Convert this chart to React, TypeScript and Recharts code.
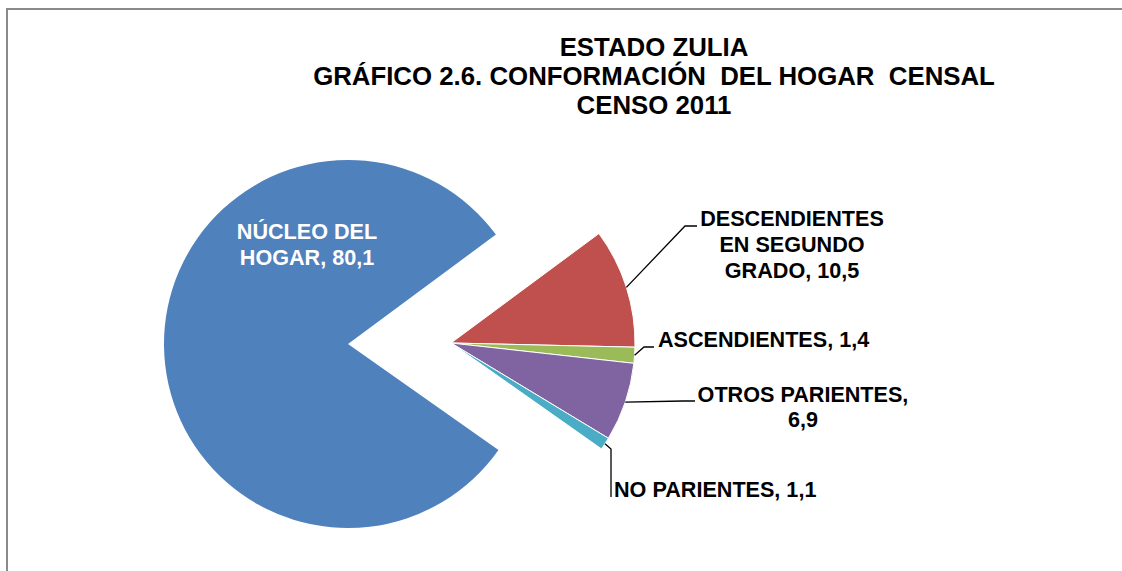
import React from "react";
import { PieChart, Pie, Cell } from "recharts";

const categories = [
  "DESCENDIENTES EN SEGUNDO GRADO",
  "ASCENDIENTES",
  "OTROS PARIENTES",
  "NO PARIENTES",
  "NÚCLEO DEL HOGAR",
];
const values = [10.5, 1.4, 6.9, 1.1, 80.1];
const colors = ["#C0504D", "#9BBB59", "#8064A2", "#4BACC6", "#4F81BD"];
const labelLines = [
  ["DESCENDIENTES", "EN SEGUNDO", "GRADO, 10,5"],
  ["ASCENDIENTES, 1,4"],
  ["OTROS PARIENTES,", "6,9"],
  ["NO PARIENTES, 1,1"],
  ["NÚCLEO DEL", "HOGAR, 80,1"],
];
const titleLines = ["ESTADO ZULIA", "GRÁFICO 2.6. CONFORMACIÓN  DEL HOGAR  CENSAL", "CENSO 2011"];

const data = categories.map((name, i) => ({ name, value: values[i] }));

// label placement relative to the slice centre: elbow, line end, text anchor point
const labelLayout = [
  { elbow: [234, -117], end: [246, -117], tx: 341, ty: -125, anchor: "middle", lh: 26 },
  { elbow: [193, 4], end: [203, 4], tx: 207, ty: -4, anchor: "start", lh: 26 },
  { elbow: [232, 58], end: [244, 58], tx: 352, ty: 51, anchor: "middle", lh: 25 },
  { elbow: [160, 106], end: [160, 154], tx: 163, ty: 146, anchor: "start", lh: 26 },
  { elbow: null, end: null, tx: -41, ty: -113, anchor: "middle", lh: 26 },
];

const FONT = "'Liberation Sans', Arial, sans-serif";
const RAD = Math.PI / 180;
const BIG = 4;

const renderLabel = (props: any) => {
  const { cx, cy, midAngle, outerRadius, index } = props;
  const L = labelLayout[index];
  const lines = labelLines[index];
  const isBig = index === BIG;
  const sx = cx + outerRadius * Math.cos(-midAngle * RAD);
  const sy = cy + outerRadius * Math.sin(-midAngle * RAD);
  return (
    <g key={`lbl-${index}`}>
      {L.elbow && (
        <polyline
          points={`${sx},${sy} ${cx + L.elbow[0]},${cy + L.elbow[1]} ${cx + L.end![0]},${cy + L.end![1]}`}
          fill="none"
          stroke="#000"
          strokeWidth={1.3}
        />
      )}
      <text
        x={cx + L.tx}
        y={cy + L.ty}
        textAnchor={L.anchor as any}
        fontFamily={FONT}
        fontWeight="bold"
        fontSize={21.6}
        fill={isBig ? "#fff" : "#000"}
      >
        {lines.map((t, j) => (
          <tspan key={j} x={cx + L.tx} dy={j === 0 ? 7.5 : L.lh}>
            {t}
          </tspan>
        ))}
      </text>
    </g>
  );
};

export default function App() {
  return (
    <div
      style={{
        position: "absolute",
        left: 0,
        top: 0,
        width: 1122,
        height: 571,
        overflow: "hidden",
        background: "#fff",
      }}
    >
      <div
        style={{
          position: "absolute",
          left: 6,
          top: 8,
          width: 1200,
          height: 700,
          borderTop: "2px solid #8a8a8a",
          borderLeft: "2px solid #8a8a8a",
        }}
      />
      <div
        style={{
          position: "absolute",
          left: 254,
          top: 33,
          width: 800,
          textAlign: "center",
          fontFamily: FONT,
          fontWeight: "bold",
          fontSize: 25.8,
          lineHeight: "29px",
          color: "#000",
        }}
      >
        {titleLines.map((t, i) => (
          <div key={i} style={{ whiteSpace: "pre" }}>
            {t}
          </div>
        ))}
      </div>
      <div style={{ position: "absolute", left: 0, top: 0 }}>
        <PieChart width={1122} height={571} margin={{ top: 0, right: 0, bottom: 0, left: 0 }}>
          <Pie
            data={data}
            dataKey="value"
            nameKey="name"
            cx={348}
            cy={344}
            outerRadius={184}
            startAngle={36.5}
            endAngle={-323.5}
            stroke="none"
            labelLine={false}
            label={(p: any) => (p.index === BIG ? renderLabel(p) : null)}
            isAnimationActive={false}
          >
            {data.map((d, i) => (
              <Cell key={d.name} fill={i === BIG ? colors[i] : "transparent"} stroke="none" />
            ))}
          </Pie>
          <Pie
            data={data}
            dataKey="value"
            nameKey="name"
            cx={451}
            cy={343}
            outerRadius={184}
            startAngle={36.5}
            endAngle={-323.5}
            labelLine={false}
            label={(p: any) => (p.index !== BIG ? renderLabel(p) : null)}
            isAnimationActive={false}
          >
            {data.map((d, i) => (
              <Cell
                key={d.name}
                fill={i === BIG ? "transparent" : colors[i]}
                stroke={i === BIG ? "none" : "#fff"}
                strokeWidth={1}
              />
            ))}
          </Pie>
        </PieChart>
      </div>
    </div>
  );
}
